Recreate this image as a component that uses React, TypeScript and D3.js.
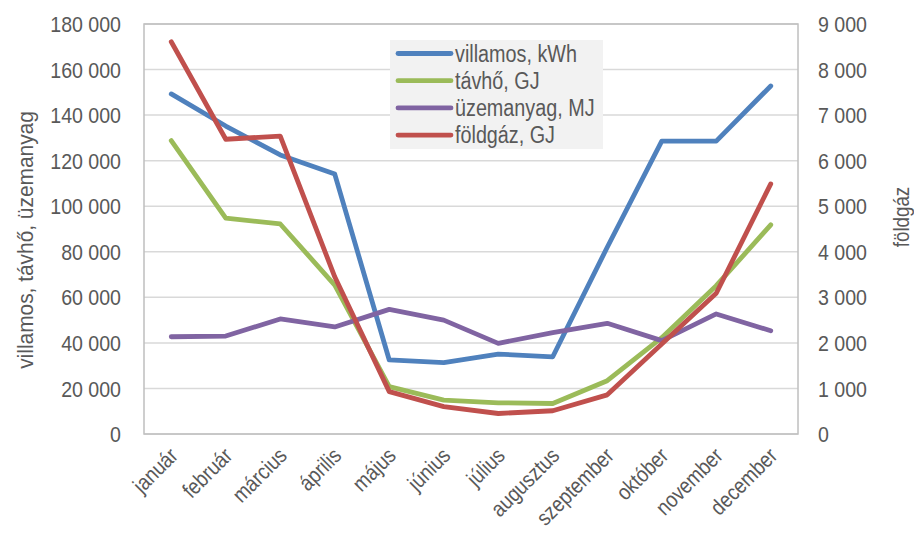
import React from "react";
import * as d3 from "d3";

// havi energiafogyasztás
const months = [
  "január", "február", "március", "április", "május", "június",
  "július", "augusztus", "szeptember", "október", "november", "december",
];
const villamos = [149300, 135200, 122500, 114100, 32500, 31300, 35100, 33900, 82000, 128600, 128600, 152800];
const tavho = [128800, 94800, 92200, 65400, 20800, 14900, 13700, 13400, 23400, 42300, 65100, 91800];
const uzemanyag = [42700, 43000, 50500, 47000, 54700, 50000, 39800, 44500, 48600, 41000, 52700, 45300];
const foldgaz = [8610, 6470, 6540, 3450, 930, 600, 450, 510, 860, 1975, 3090, 5490];

const leftTicks = [0, 20000, 40000, 60000, 80000, 100000, 120000, 140000, 160000, 180000];
const rightTicks = [0, 1000, 2000, 3000, 4000, 5000, 6000, 7000, 8000, 9000];

const W = 914, H = 533;
const margin = { top: 24, right: 116, bottom: 99, left: 144 };
const FONT = "'Liberation Sans', Arial, sans-serif";
const TXT = "#595959";

const fmt = (v: number) => d3.format(",")(v).replace(/,/g, " ");

// condensed text: no narrow font installed, so squeeze horizontally
function T({ x, y, rot = 0, sx = 0.86, size = 22, anchor = "start", dy = "0", children }: any) {
  return (
    <g transform={`translate(${x},${y}) rotate(${rot}) scale(${sx},1)`}>
      <text textAnchor={anchor} dy={dy} fontSize={size} fill={TXT}>{children}</text>
    </g>
  );
}

export default function App() {
  const x0 = margin.left, x1 = W - margin.right;
  const y0 = H - margin.bottom, y1 = margin.top;

  const x = d3.scaleBand<string>().domain(months).range([x0, x1]);
  const cx = (m: string) => (x(m) as number) + x.bandwidth() / 2;
  const yL = d3.scaleLinear().domain([0, 180000]).range([y0, y1]);
  const yR = d3.scaleLinear().domain([0, 9000]).range([y0, y1]);

  const lineL = d3.line<number>().x((_, i) => cx(months[i])).y((d) => yL(d));
  const lineR = d3.line<number>().x((_, i) => cx(months[i])).y((d) => yR(d));

  const series = [
    { name: "villamos, kWh", color: "#4F81BD", path: lineL(villamos) },
    { name: "távhő, GJ", color: "#9BBB59", path: lineL(tavho) },
    { name: "üzemanyag, MJ", color: "#8064A2", path: lineL(uzemanyag) },
    { name: "földgáz, GJ", color: "#C0504D", path: lineR(foldgaz) },
  ];

  const lg = { x: 390, y: 40, w: 213, h: 109 };

  return (
    <svg width={W} height={H} style={{ position: "absolute", left: 0, top: 0, background: "#fff" }} fontFamily={FONT}>
      {/* gridlines */}
      {leftTicks.map((t) => (
        <line key={t} x1={x0} x2={x1} y1={yL(t)} y2={yL(t)} stroke="#d9d9d9" strokeWidth={1.5} />
      ))}
      <rect x={x0} y={y1} width={x1 - x0} height={y0 - y1} fill="none" stroke="#bfbfbf" strokeWidth={1.5} />

      {/* left ticks */}
      {leftTicks.map((t) => (
        <T key={t} x={121} y={yL(t)} dy="0.36em" anchor="end" size={22.5} sx={0.87}>{fmt(t)}</T>
      ))}
      {/* right ticks */}
      {rightTicks.map((t) => (
        <T key={t} x={818} y={yR(t)} dy="0.36em" size={22.5} sx={0.87}>{fmt(t)}</T>
      ))}

      {/* month labels */}
      {months.map((m) => (
        <T key={m} x={cx(m) + 8} y={y0 + 23} rot={-45} anchor="end" size={22} sx={0.86}>{m}</T>
      ))}

      {/* axis titles */}
      <T x={33} y={240} rot={-90} anchor="middle" size={22} sx={0.95}>villamos, távhő, üzemanyag</T>
      <T x={909} y={217} rot={-90} anchor="middle" size={22} sx={0.85}>földgáz</T>

      {/* series */}
      {series.map((s) => (
        <path key={s.name} d={s.path || ""} fill="none" stroke={s.color} strokeWidth={4.8}
          strokeLinejoin="round" strokeLinecap="round" />
      ))}

      {/* legend */}
      <rect x={lg.x} y={lg.y} width={lg.w} height={lg.h} fill="#f2f2f2" />
      {series.map((s, i) => {
        const ly = 53.5 + i * 27.2;
        return (
          <g key={s.name}>
            <line x1={398} x2={451} y1={ly} y2={ly} stroke={s.color} strokeWidth={4.8} strokeLinecap="round" />
            <T x={455} y={ly} dy="0.36em" size={23} sx={0.86}>{s.name}</T>
          </g>
        );
      })}
    </svg>
  );
}
